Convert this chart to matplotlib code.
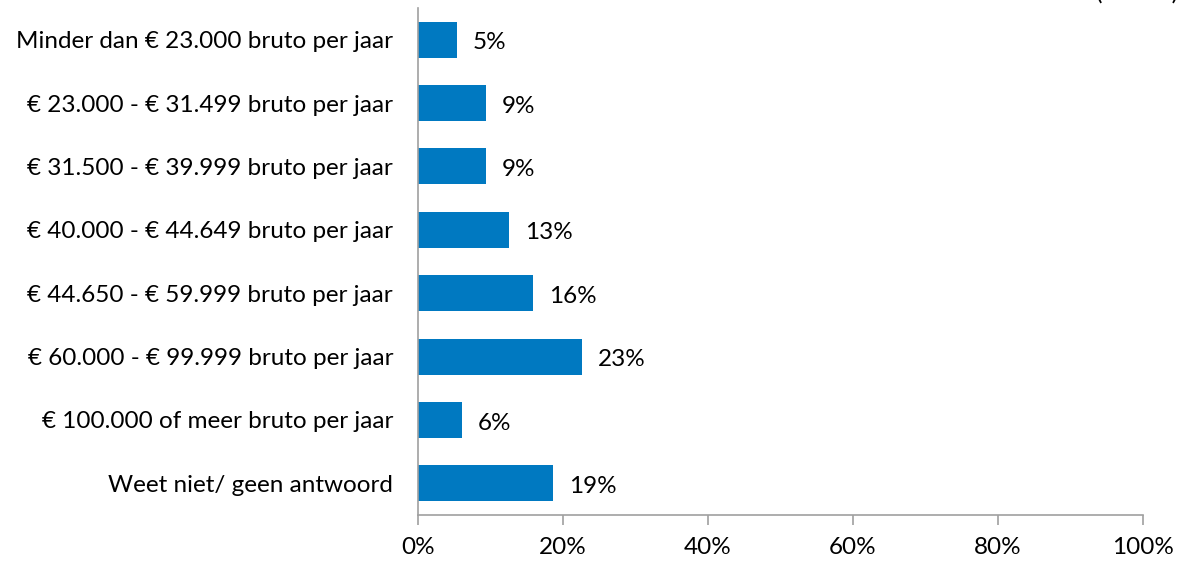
import matplotlib
matplotlib.use('Agg')
import matplotlib.pyplot as plt
from matplotlib.ticker import PercentFormatter

# data
categories = [
    'Minder dan € 23.000 bruto per jaar',
    '€ 23.000 - € 31.499 bruto per jaar',
    '€ 31.500 - € 39.999 bruto per jaar',
    '€ 40.000 - € 44.649 bruto per jaar',
    '€ 44.650 - € 59.999 bruto per jaar',
    '€ 60.000 - € 99.999 bruto per jaar',
    '€ 100.000 of meer bruto per jaar',
    'Weet niet/ geen antwoord',
]
values = [5.4, 9.4, 9.4, 12.6, 15.9, 22.6, 6.1, 18.6]
labels = ['5%', '9%', '9%', '13%', '16%', '23%', '6%', '19%']

plt.rcParams['font.family'] = ['Lato', 'DejaVu Sans']
fs = 17.5

fig = plt.figure(figsize=(11.81, 5.61), dpi=100)
ax = fig.add_axes([418/1181, 1-515/561, 725/1181, 507/561])

pos = list(range(len(categories)))
ax.barh(pos, values, height=0.57, color='#0079C1')
for p, v, lab in zip(pos, values, labels):
    ax.text(v + 2.2, p + 0.05, lab, va='center', ha='left', fontsize=fs)

ax.set_ylim(len(categories) - 0.5, -0.5)
ax.set_xlim(0, 100)
ax.set_xticks([0, 20, 40, 60, 80, 100])
ax.xaxis.set_major_formatter(PercentFormatter(decimals=0))
ax.set_yticks(pos)
ax.set_yticklabels(categories)
ax.tick_params(axis='y', length=0, pad=18, labelsize=fs)
ax.tick_params(axis='x', length=7, width=1.2, color='#A0A0A0', pad=9, labelsize=fs)

for s in ['top', 'right']:
    ax.spines[s].set_visible(False)
for s in ['left', 'bottom']:
    ax.spines[s].set_color('#A0A0A0')
    ax.spines[s].set_linewidth(1.2)

# sample size note, cut off at the top edge as in the source
fig.text(1179/1181, 1-4/561, '(n=100)', ha='right', va='bottom', fontsize=fs)

fig.savefig('out.png', dpi=100)
